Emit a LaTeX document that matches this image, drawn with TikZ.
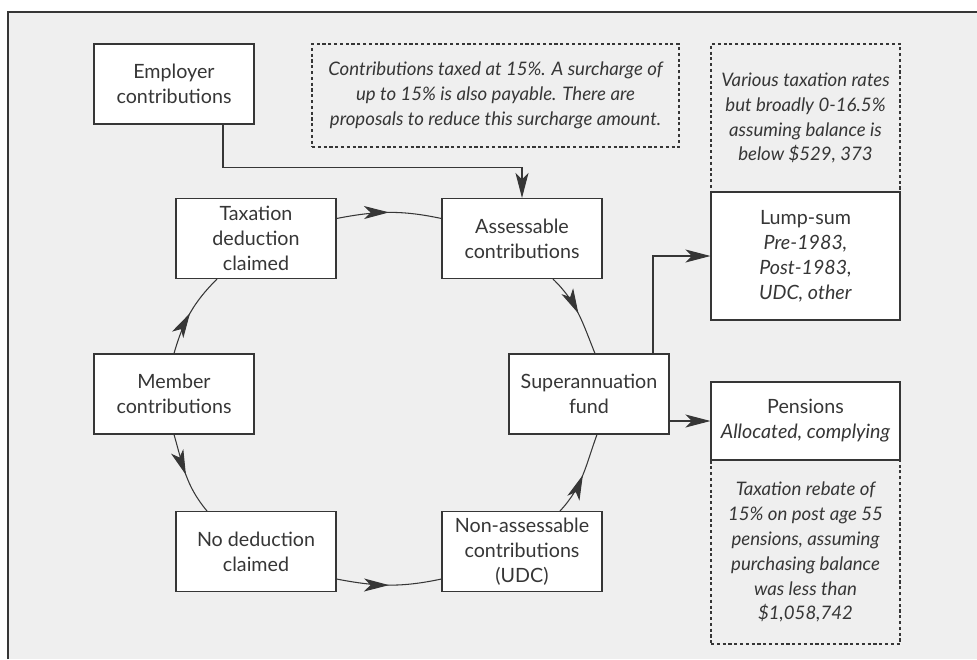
\documentclass[tikz,border=0pt]{standalone}
\usepackage{fontspec}
\setmainfont{Lato}
\usetikzlibrary{arrows.meta,decorations.markings}

\definecolor{ink}{HTML}{363636}
\definecolor{paper}{HTML}{EFEFEF}

\begin{document}
\begin{tikzpicture}[line width=0.6pt,
    box/.style={draw=ink, fill=white, text=ink, align=center, minimum width=3.2cm, minimum height=1.6cm, font=\fontsize{11.2}{14.2}\selectfont, inner sep=2pt},
    note/.style={draw=ink, dash pattern=on 1.8pt off 1.5pt, text=ink, align=center, font=\fontsize{10.6}{14.2}\selectfont\itshape},
    tip/.style={draw=ink, -{Stealth[length=5mm,width=2.6mm,inset=1.3mm]}},
    mid/.style={draw=ink, postaction={decorate}, decoration={markings, mark=at position 0.5 with {\arrow{Stealth[length=5mm,width=2.6mm,inset=1.3mm]}}}}]
    \useasboundingbox (0,0) rectangle (19.54,-13.18);
    \fill[paper] (0.16,-13.18) rectangle (19.54,-0.24);
    \draw[ink, line width=1.3pt] (0.16,-13.18) -- (0.16,-0.24) -- (19.54,-0.24);

    \node[box] (emp) at (3.48,-1.68) {Employer\\contributions};
    \node[box] (tax) at (5.12,-4.77) {Taxation\\deduction\\claimed};
    \node[box] (ass) at (10.44,-4.77) {Assessable\\contributions};
    \node[box] (mem) at (3.48,-7.88) {Member\\contributions};
    \node[box] (sup) at (11.78,-7.88) {Superannuation\\fund};
    \node[box] (nod) at (5.12,-11.03) {No deduction\\claimed};
    \node[box] (non) at (10.44,-11.03) {Non-assessable\\contributions\\(UDC)};

    \node[note, minimum width=7.34cm, minimum height=2.06cm] (taxnote) at (9.91,-1.91) {Contributions taxed at 15\%. A surcharge of\\up to 15\% is also payable. There are\\proposals to reduce this surcharge amount.};
    \node[note, minimum width=3.78cm, minimum height=2.96cm] (lumpnote) at (16.11,-2.36) {Various taxation rates\\but broadly 0-16.5\%\\assuming balance is\\below \$529, 373};
    \node[note, minimum width=3.78cm, minimum height=3.68cm] (pennote) at (16.11,-11.04) {Taxation rebate of\\15\% on post age 55\\pensions, assuming\\purchasing balance\\was less than\\\$1,058,742};
    \node[box, minimum width=3.78cm, minimum height=2.56cm] (lump) at (16.11,-5.12) {Lump-sum\\\textit{Pre-1983,}\\\textit{Post-1983,}\\\textit{UDC, other}};
    \node[box, minimum width=3.78cm, minimum height=1.56cm] (pen) at (16.11,-8.42) {Pensions\\\textit{Allocated, complying}};

    \draw[mid] (mem.north) to[out=74,in=225] ([xshift=-7.8mm]tax.south);
    \draw[mid] ([yshift=4mm]tax.east) to[out=11,in=168] ([yshift=4mm]ass.west);
    \draw[mid] ([xshift=6.2mm]ass.south) to[out=-44,in=112] ([xshift=1.2mm]sup.north);
    \draw[mid] (mem.south) to[out=-74,in=130] ([xshift=-9.8mm]nod.north);
    \draw[mid] ([yshift=-5.5mm]nod.east) to[out=-11,in=-168] ([yshift=-5.5mm]non.west);
    \draw[mid] ([xshift=7.6mm]non.north) to[out=47,in=-110] ([xshift=1.6mm]sup.south);
    \draw[tip] ([xshift=9.8mm]emp.south) -- ++(0,-0.86) -| (ass.north);
    \draw[tip] ([xshift=12.8mm]sup.north) |- (lump.west);
    \draw[tip] (sup.east |- pen.west) -- (pen.west);
\end{tikzpicture}
\end{document}
